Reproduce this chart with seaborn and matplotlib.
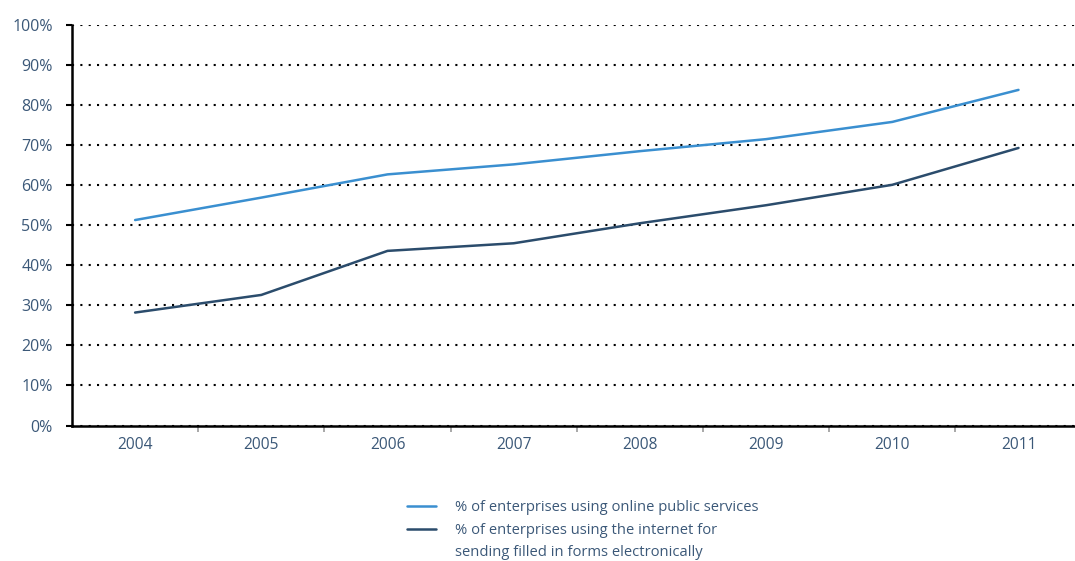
import numpy as np
import pandas as pd
import matplotlib
matplotlib.use("Agg")
import matplotlib.pyplot as plt
import seaborn as sns
from matplotlib.ticker import FixedLocator, FuncFormatter

years = ["2004", "2005", "2006", "2007", "2008", "2009", "2010", "2011"]
online_services = [51.3, 56.9, 62.7, 65.2, 68.5, 71.5, 75.8, 83.8]
forms_electronic = [28.2, 32.6, 43.6, 45.5, 50.5, 55.0, 60.1, 69.3]
series_names = [
    "% of enterprises using online public services",
    "% of enterprises using the internet for sending filled in forms electronically",
]
legend_lines = [
    "% of enterprises using online public services",
    "% of enterprises using the internet for",
    "sending filled in forms electronically",
]
series_colors = ["#3a8fd0", "#2b4c6c"]
y_ticks = list(range(0, 101, 10))

df = pd.DataFrame({
    "year": years * 2,
    "value": online_services + forms_electronic,
    "series": [series_names[0]] * len(years) + [series_names[1]] * len(years),
})

sns.set_theme(style="white")
plt.rcParams["font.family"] = ["Open Sans", "DejaVu Sans"]
text_color = "#3b5878"

fig = plt.figure(figsize=(10.75, 5.61), dpi=100)
ax = fig.add_axes([72 / 1075, 135.5 / 561, 8 * 126.2 / 1075, 400.5 / 561])

sns.lineplot(data=df, x="year", y="value", hue="series", hue_order=series_names,
             palette=series_colors, linewidth=1.8, ax=ax, legend=False, sort=False)

ax.set_xlim(-0.5, len(years) - 0.5)
ax.set_ylim(0, 100)
ax.set_xlabel("")
ax.set_ylabel("")

# y axis: percentage labels with dotted black gridlines
ax.yaxis.set_major_locator(FixedLocator(y_ticks))
ax.yaxis.set_major_formatter(FuncFormatter(lambda v, _: f"{int(v)}%"))
ax.yaxis.grid(True, color="black", linestyle=(0, (1, 3)), linewidth=1.5)
ax.xaxis.grid(False)
ax.set_axisbelow(True)
ax.tick_params(axis="y", which="major", direction="out", length=4, width=1.5,
               color="black", labelsize=11.5, labelcolor=text_color, pad=10, left=True)

# x axis: year labels centred in categories, small grey ticks between them
ax.xaxis.set_major_locator(FixedLocator(range(len(years))))
ax.set_xticklabels(years)
ax.xaxis.set_minor_locator(FixedLocator(np.arange(0.5, len(years) - 1, 1.0)))
ax.tick_params(axis="x", which="major", length=0, labelsize=11.2,
               labelcolor=text_color, pad=8)
ax.tick_params(axis="x", which="minor", direction="out", length=4, width=1.2,
               color="#9a9a9a", bottom=True)

for side in ["top", "right"]:
    ax.spines[side].set_visible(False)
for side in ["left", "bottom"]:
    ax.spines[side].set_color("black")
    ax.spines[side].set_linewidth(1.8)

# legend below the plot; the second label wraps onto a line with no handle
handles = [plt.Line2D([], [], color=c, linewidth=1.8) for c in series_colors]
handles.append(plt.Line2D([], [], linestyle="none"))
leg = fig.legend(handles, legend_lines, loc="upper left",
                 bbox_to_anchor=(401 / 1075, 1 - 494 / 561), frameon=False,
                 fontsize=10.6, handlelength=1.95, handletextpad=1.3,
                 labelspacing=0.53, borderaxespad=0)
for t in leg.get_texts():
    t.set_color(text_color)

fig.savefig("out.png", dpi=100)
